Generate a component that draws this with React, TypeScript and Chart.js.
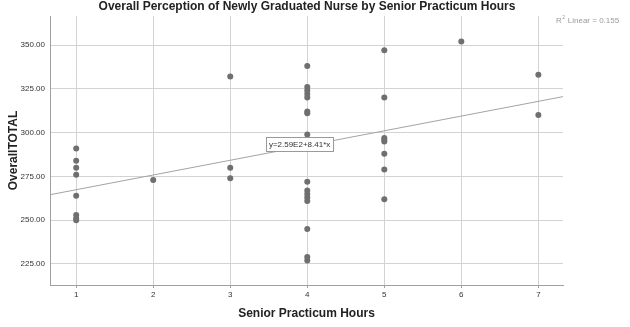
import { useEffect, useRef } from 'react';
import { Chart, registerables } from 'chart.js';

Chart.register(...registerables);

const TITLE = 'Overall Perception of Newly Graduated Nurse by Senior Practicum Hours';
const X_LABEL = 'Senior Practicum Hours';
const Y_LABEL = 'OverallTOTAL';
const X_TICKS = [1, 2, 3, 4, 5, 6, 7];
const Y_TICKS = [225, 250, 275, 300, 325, 350];

const HOURS = [
  1, 1, 1, 1, 1, 1, 1, 1,
  2,
  3, 3, 3,
  4, 4, 4, 4, 4, 4, 4, 4, 4, 4, 4, 4, 4, 4, 4, 4,
  5, 5, 5, 5, 5, 5, 5, 5,
  6,
  7, 7,
];
const TOTALS = [
  291, 284, 280, 276, 264, 253, 251, 250,
  273,
  332, 280, 274,
  338, 326, 324, 322, 320, 312, 311, 299, 272, 267, 265, 263, 261, 245, 229, 227,
  347, 320, 297, 296, 295, 288, 279, 262,
  352,
  333, 310,
];

const FIT_INTERCEPT = 259;
const FIT_SLOPE = 8.41;
const R2_LINEAR = 0.155;
const EQ_AT_X = 3.9;

const X_MIN = 0.66;
const X_MAX = 7.32;
const Y_MIN = 213;
const Y_MAX = 366.6;

const FONT = '"Liberation Sans", Arial, Helvetica, sans-serif';

const overlay = {
  id: 'overlay',
  afterDatasetsDraw(chart: any) {
    const { ctx, scales } = chart;
    const xs = scales.x;
    const ys = scales.y;
    const bx = xs.getPixelForValue(EQ_AT_X);
    const by = ys.getPixelForValue(FIT_INTERCEPT + FIT_SLOPE * EQ_AT_X) - 3;
    const mant = (FIT_INTERCEPT / 100).toFixed(2);
    const text = `y=${mant}E2+${FIT_SLOPE.toFixed(2)}*x`;
    ctx.save();
    ctx.font = `8px ${FONT}`;
    const w = ctx.measureText(text).width + 6;
    const h = 14;
    ctx.fillStyle = '#ffffff';
    ctx.fillRect(Math.round(bx - w / 2) + 0.5, Math.round(by - h / 2) + 0.5, Math.round(w), h);
    ctx.strokeStyle = '#9a9a9a';
    ctx.lineWidth = 1;
    ctx.strokeRect(Math.round(bx - w / 2) + 0.5, Math.round(by - h / 2) + 0.5, Math.round(w), h);
    ctx.fillStyle = '#333333';
    ctx.textAlign = 'center';
    ctx.textBaseline = 'middle';
    ctx.fillText(text, bx, by + 1);
    ctx.restore();
  },
  afterDraw(chart: any) {
    const { ctx } = chart;
    ctx.save();
    ctx.fillStyle = '#222222';
    ctx.font = `bold 12px ${FONT}`;
    ctx.textAlign = 'center';
    ctx.textBaseline = 'middle';
    ctx.fillText(TITLE, 307, 7);

    ctx.fillStyle = '#9a9a9a';
    ctx.textAlign = 'left';
    ctx.textBaseline = 'alphabetic';
    ctx.font = `8px ${FONT}`;
    let x = 556;
    ctx.fillText('R', x, 23);
    x += ctx.measureText('R').width;
    ctx.font = `5px ${FONT}`;
    ctx.fillText('2', x + 0.5, 19);
    x += ctx.measureText('2').width + 1;
    ctx.font = `8px ${FONT}`;
    ctx.fillText(` Linear = ${R2_LINEAR.toFixed(3)}`, x, 23);
    ctx.restore();
  },
};

export default function App() {
  const ref = useRef<HTMLCanvasElement | null>(null);

  useEffect(() => {
    if (!ref.current) return;
    const points = HOURS.map((h, i) => ({ x: h, y: TOTALS[i] }));
    const fitLine = [X_MIN, X_MAX].map((v) => ({ x: v, y: FIT_INTERCEPT + FIT_SLOPE * v }));
    const chart = new Chart(ref.current, {
      type: 'scatter',
      data: {
        datasets: [
          {
            type: 'line',
            data: fitLine,
            borderColor: '#a3a3a3',
            borderWidth: 1,
            pointRadius: 0,
            fill: false,
            order: 2,
          } as any,
          {
            data: points,
            backgroundColor: '#6f6f6f',
            borderColor: '#6f6f6f',
            borderWidth: 0,
            pointRadius: 3,
            order: 1,
          },
        ],
      },
      options: {
        responsive: false,
        animation: false,
        devicePixelRatio: 1,
        layout: { padding: { top: 16, right: 67, left: 0, bottom: 0 } },
        plugins: {
          legend: { display: false },
          tooltip: { enabled: false },
          title: { display: false },
        },
        scales: {
          x: {
            type: 'linear',
            min: X_MIN,
            max: X_MAX,
            afterBuildTicks: (s: any) => {
              s.ticks = X_TICKS.map((v) => ({ value: v }));
            },
            afterFit: (s: any) => {
              s.height = 42;
            },
            grid: { color: '#d3d3d3', lineWidth: 1, drawTicks: true, tickLength: 3, tickColor: '#a0a0a0' },
            border: { display: true, color: '#a0a0a0', width: 1 },
            ticks: {
              color: '#333333',
              font: { family: FONT, size: 8 },
              padding: 2,
              maxRotation: 0,
              callback: (v: any) => String(v),
            },
            title: {
              display: true,
              text: X_LABEL,
              color: '#222222',
              font: { family: FONT, size: 12, weight: 'bold' },
              padding: { top: 0, bottom: 6 },
            },
          },
          y: {
            type: 'linear',
            min: Y_MIN,
            max: Y_MAX,
            afterBuildTicks: (s: any) => {
              s.ticks = Y_TICKS.map((v) => ({ value: v }));
            },
            afterFit: (s: any) => {
              s.width = 50;
            },
            grid: { color: '#d3d3d3', lineWidth: 1, drawTicks: false },
            border: { display: true, color: '#a0a0a0', width: 1 },
            ticks: {
              color: '#333333',
              font: { family: FONT, size: 8 },
              padding: 5,
              callback: (v: any) => Number(v).toFixed(2),
            },
            title: {
              display: true,
              text: Y_LABEL,
              color: '#222222',
              font: { family: FONT, size: 12, weight: 'bold' },
              padding: { top: 6, bottom: 0 },
            },
          },
        },
      },
      plugins: [overlay],
    });
    return () => chart.destroy();
  }, []);

  return (
    <div style={{ position: 'absolute', left: 0, top: 0, width: 630, height: 327, background: '#ffffff' }}>
      <canvas ref={ref} width={630} height={327} style={{ width: 630, height: 327, display: 'block' }} />
    </div>
  );
}
